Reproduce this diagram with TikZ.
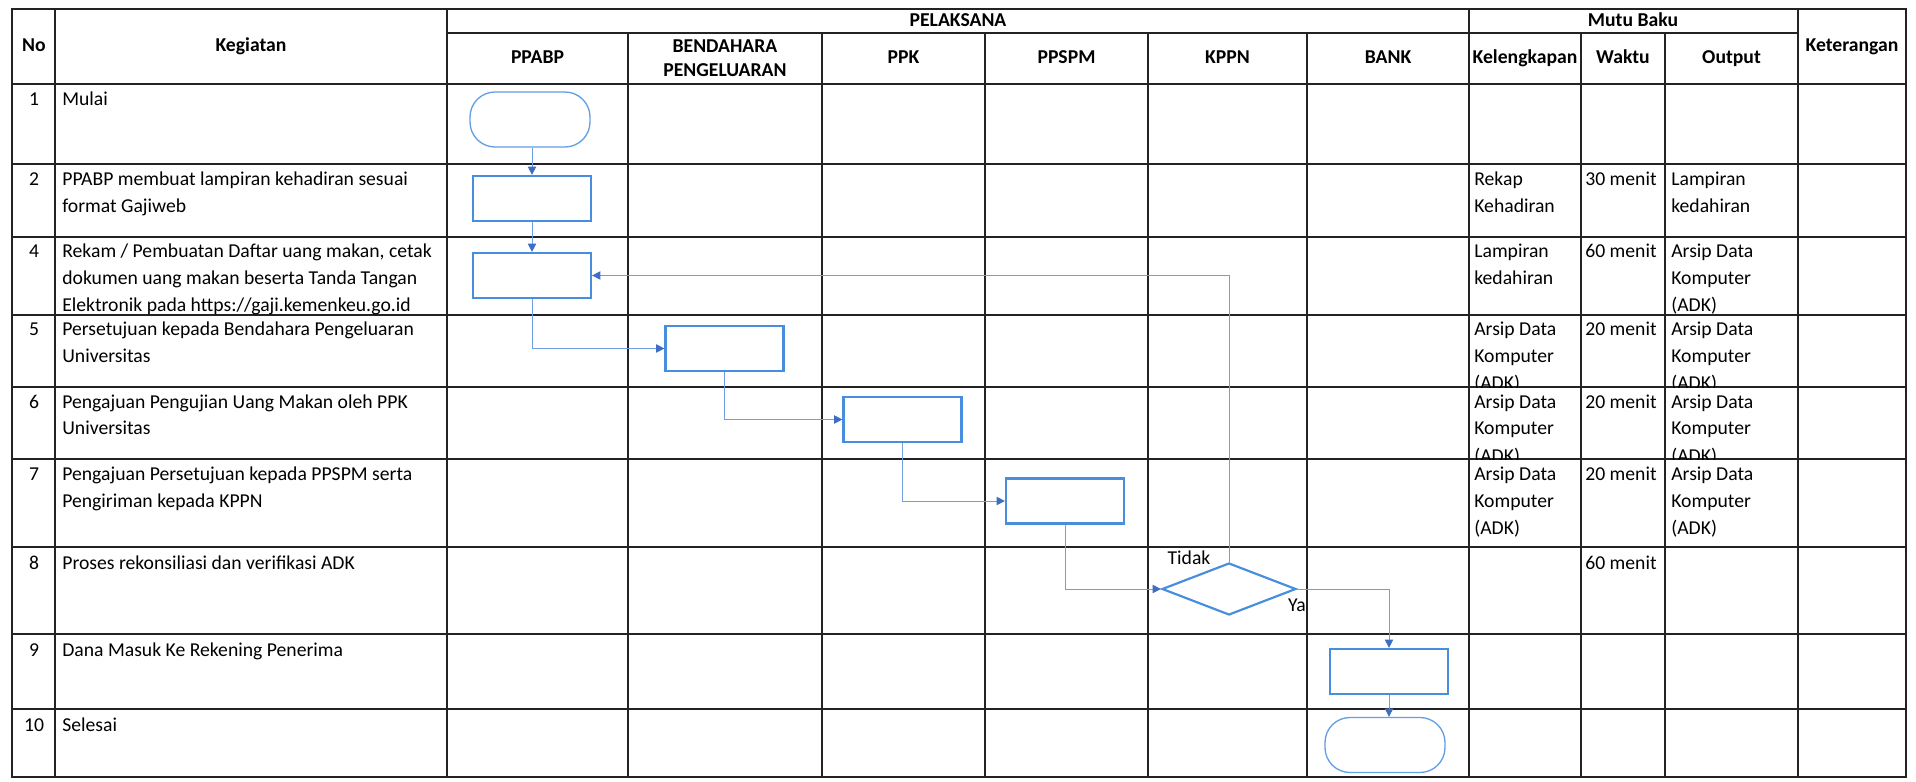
\documentclass[tikz,border=0pt]{standalone}
\usepackage{fontspec}
\setmainfont{Carlito}
\usetikzlibrary{arrows.meta,shapes.geometric}
\definecolor{gridc}{RGB}{35,35,35}
\definecolor{boxc}{RGB}{72,142,222}
\definecolor{linec}{RGB}{110,160,225}
\definecolor{arrc}{RGB}{62,110,195}
\newcommand\bodyfont{\fontsize{11.8}{16.2}\selectfont}
\newcommand\headfont{\fontsize{11.8}{14.6}\selectfont\bfseries}
\newcommand\ml[1]{\begin{tabular}[t]{@{}l@{}}#1\end{tabular}}
\begin{document}
\begin{tikzpicture}[x=0.6pt,y=-0.6pt,
  gridline/.style={draw=gridc, line width=1.1pt, line cap=rect},
  proc/.style={draw=boxc, line width=1.3pt, fill=white, minimum width=70.8pt, minimum height=27pt, inner sep=0pt},
  term/.style={draw=boxc!85, line width=0.8pt, rounded corners=15pt, minimum width=72pt, minimum height=33pt, inner sep=0pt},
  dec/.style={diamond, draw=boxc, line width=1.3pt, minimum width=80.4pt, minimum height=31.2pt, inner sep=0pt},
  flow/.style={draw=linec, line width=0.55pt, -{Triangle[length=5pt,width=5pt,color=arrc]}},
  hd/.style={font=\headfont, align=center, inner sep=0pt},
  hdb/.style={font=\headfont, anchor=base, inner sep=0pt},
  cell/.style={anchor=base west, inner sep=0pt, font=\bodyfont},
  num/.style={anchor=base, inner sep=0pt, font=\bodyfont},
  lbl/.style={font=\bodyfont, inner sep=0pt}]
\useasboundingbox[fill=white] (0,0) rectangle (1916,782);

% ---- grid ----
\foreach \y in {9,84,164,237,315,387,459,547,634,709,777}
  \draw[gridline] (12,\y) -- (1906,\y);
\draw[gridline] (447,33) -- (1798,33);
\foreach \x in {12,55,447,1469,1798,1906}
  \draw[gridline] (\x,9) -- (\x,777);
\foreach \x in {628,822,985,1148,1307,1581,1665}
  \draw[gridline] (\x,33) -- (\x,777);

% ---- headers ----
\node[hdb] (hNo) at (34,52) {No};
\node[hdb] (hKeg) at (251,52) {Kegiatan};
\node[hdb] (hPel) at (958,27) {PELAKSANA};
\node[hdb] (hMutu) at (1633,27) {Mutu Baku};
\node[hdb] (hKet) at (1852,52) {Keterangan};
\node[hdb] (hPPABP) at (537.5,64) {PPABP};
\node[hd] (hBend) at (725,58) {BENDAHARA\\PENGELUARAN};
\node[hdb] (hPPK) at (903.5,64) {PPK};
\node[hdb] (hPPSPM) at (1066.5,64) {PPSPM};
\node[hdb] (hKPPN) at (1227.5,64) {KPPN};
\node[hdb] (hBANK) at (1388,64) {BANK};
\node[hdb] (hKel) at (1525,64) {Kelengkapan};
\node[hdb] (hWak) at (1623,64) {Waktu};
\node[hdb] (hOut) at (1731.5,64) {Output};

% ---- rows ----
\node[num] (n1) at (34,106) {1};
\node[cell] (k1) at (62,106) {Mulai};

\node[num] (n2) at (34,186) {2};
\node[cell] (k2) at (62,186) {\ml{PPABP membuat lampiran kehadiran sesuai\\format Gajiweb}};
\node[cell] (kel2) at (1474,186) {\ml{Rekap\\Kehadiran}};
\node[cell] (w2) at (1585,186) {30 menit};
\node[cell] (o2) at (1671,186) {\ml{Lampiran\\kedahiran}};

\node[num] (n4) at (34,258) {4};
\node[cell] (k4) at (62,258) {\ml{Rekam / Pembuatan Daftar uang makan, cetak\\dokumen uang makan beserta Tanda Tangan\\Elektronik pada https://gaji.kemenkeu.go.id}};
\node[cell] (kel4) at (1474,258) {\ml{Lampiran\\kedahiran}};
\node[cell] (w4) at (1585,258) {60 menit};
\node[cell] (o4) at (1671,258) {\ml{Arsip Data\\Komputer\\(ADK)}};

\begin{scope}
\clip (12,315) rectangle (1906,387);
\node[num] (n5) at (34,336) {5};
\node[cell] (k5) at (62,336) {\ml{Persetujuan kepada Bendahara Pengeluaran\\Universitas}};
\node[cell] (kel5) at (1474,336) {\ml{Arsip Data\\Komputer\\(ADK)}};
\node[cell] (w5) at (1585,336) {20 menit};
\node[cell] (o5) at (1671,336) {\ml{Arsip Data\\Komputer\\(ADK)}};
\end{scope}

\begin{scope}
\clip (12,387) rectangle (1906,459);
\node[num] (n6) at (34,408) {6};
\node[cell] (k6) at (62,408) {\ml{Pengajuan Pengujian Uang Makan oleh PPK\\Universitas}};
\node[cell] (kel6) at (1474,408) {\ml{Arsip Data\\Komputer\\(ADK)}};
\node[cell] (w6) at (1585,408) {20 menit};
\node[cell] (o6) at (1671,408) {\ml{Arsip Data\\Komputer\\(ADK)}};
\end{scope}

\node[num] (n7) at (34,480) {7};
\node[cell] (k7) at (62,480) {\ml{Pengajuan Persetujuan kepada PPSPM serta\\Pengiriman kepada KPPN}};
\node[cell] (kel7) at (1474,480) {\ml{Arsip Data\\Komputer\\(ADK)}};
\node[cell] (w7) at (1585,480) {20 menit};
\node[cell] (o7) at (1671,480) {\ml{Arsip Data\\Komputer\\(ADK)}};

\node[num] (n8) at (34,569) {8};
\node[cell] (k8) at (62,569) {Proses rekonsiliasi dan verifikasi ADK};
\node[cell] (w8) at (1585,569) {60 menit};

\node[num] (n9) at (34,656) {9};
\node[cell] (k9) at (62,656) {Dana Masuk Ke Rekening Penerima};

\node[num] (n10) at (34,731) {10};
\node[cell] (k10) at (62,731) {Selesai};

% ---- flowchart ----
\node[term] (start) at (530,119.5) {};
\node[proc] (p2) at (532,198.5) {};
\node[proc] (p4) at (532,275.5) {};
\node[proc] (p5) at (724.5,348.5) {};
\node[proc] (p6) at (902.5,419.5) {};
\node[proc] (p7) at (1065,501) {};
\node[dec] (d8) at (1229,589) {};
\node[proc] (p9) at (1389,671.5) {};
\node[term] (fin) at (1385,745) {};

\draw[flow] (p2.north |- start.south) -- (p2.north);
\draw[flow] (p2.south) -- (p4.north);
\draw[flow] (p4.south) |- (p5.west);
\draw[flow] (p5.south) |- (p6.west);
\draw[flow] (p6.south) |- (p7.west);
\draw[flow] (p7.south) |- (d8.west);
\draw[flow] (d8.north) |- (p4.east);
\draw[flow] (d8.east) -| (p9.north);
\draw[flow] (p9.south) -- (p9.south |- fin.north);

\node[lbl] (tidak) at (1189,558) {Tidak};
\node[lbl] (ya) at (1297,605) {Ya};
\end{tikzpicture}
\end{document}
